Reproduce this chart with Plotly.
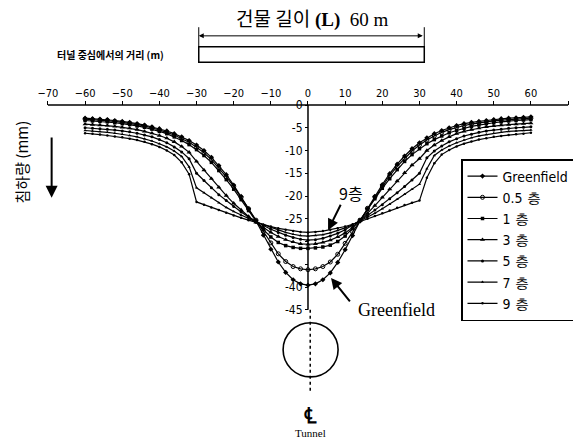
import plotly.graph_objects as go

# ---------------- data ----------------
XS = [-60, -58, -56, -54, -52, -50, -48, -46, -44, -42, -40, -38, -36, -34, -32, -30,
      -28, -26, -24, -22, -20, -18, -16, -14, -12, -10, -8, -6, -4, -2, 0,
      2, 4, 6, 8, 10, 12, 14, 16, 18, 20, 22, 24, 26, 28, 30,
      32, 34, 36, 38, 40, 42, 44, 46, 48, 50, 52, 54, 56, 58, 60]

greenfield = [-2.9, -3.0, -3.1, -3.2, -3.4, -3.6, -3.8, -4.1, -4.4, -4.8, -5.2, -5.7, -6.3, -7.0, -7.8, -8.8,
              -10.0, -11.5, -13.3, -15.3, -17.6, -20.1, -22.8, -25.5, -28.6, -31.7, -34.5, -36.8, -38.4, -39.3, -39.6,
              -39.3, -38.4, -36.9, -34.6, -31.8, -28.7, -25.5, -22.8, -20.1, -17.5, -15.1, -13.0, -11.2, -9.6, -8.3,
              -7.2, -6.3, -5.6, -5.0, -4.5, -4.1, -3.8, -3.6, -3.4, -3.2, -3.0, -2.9, -2.8, -2.7, -2.6]

floor_05 = [-3.1, -3.2, -3.3, -3.4, -3.6, -3.8, -4.0, -4.3, -4.6, -5.0, -5.5, -6.0, -6.6, -7.4, -8.2, -9.3,
            -10.5, -12.0, -13.8, -15.8, -17.9, -20.3, -22.8, -25.3, -27.8, -30.3, -32.7, -34.4, -35.5, -36.0, -36.2,
            -36.0, -35.5, -34.5, -32.8, -30.4, -27.9, -25.3, -22.7, -20.2, -17.8, -15.5, -13.5, -11.7, -10.1, -8.8,
            -7.7, -6.8, -6.0, -5.4, -4.9, -4.5, -4.2, -3.9, -3.7, -3.5, -3.3, -3.2, -3.1, -3.0, -2.9]

floor_1 = [-3.4, -3.5, -3.6, -3.7, -3.9, -4.1, -4.3, -4.6, -4.9, -5.3, -5.8, -6.3, -7.0, -7.8, -8.7, -9.8,
           -11.1, -12.6, -14.4, -16.4, -18.5, -20.8, -23.2, -25.5, -27.4, -29.0, -30.2, -30.9, -31.3, -31.5, -31.5,
           -31.4, -31.2, -30.8, -30.0, -28.8, -27.1, -25.3, -23.0, -20.6, -18.3, -16.2, -14.2, -12.4, -10.9, -9.6,
           -8.5, -7.6, -6.8, -6.1, -5.6, -5.1, -4.7, -4.4, -4.1, -3.9, -3.7, -3.5, -3.4, -3.3, -3.2]

floor_3 = [-4.2, -4.3, -4.4, -4.5, -4.7, -4.9, -5.1, -5.4, -5.8, -6.2, -6.7, -7.3, -8.1, -9.1, -10.4, -12.4,
           -14.3, -16.2, -18.1, -19.9, -21.6, -23.1, -24.5, -25.8, -27.0, -28.0, -28.9, -29.6, -30.1, -30.5, -30.6,
           -30.5, -30.2, -29.7, -29.0, -28.1, -26.9, -25.4, -23.8, -22.1, -20.3, -18.5, -16.7, -14.9, -13.2, -11.8,
           -10.0, -8.8, -7.8, -7.0, -6.3, -5.8, -5.4, -5.1, -4.8, -4.6, -4.4, -4.3, -4.2, -4.1, -4.0]

floor_5 = [-5.0, -5.1, -5.2, -5.3, -5.5, -5.7, -5.9, -6.2, -6.6, -7.0, -7.6, -8.3, -9.2, -10.3, -11.8, -15.0,
           -16.6, -18.2, -19.7, -21.0, -22.3, -23.5, -24.6, -25.6, -26.5, -27.3, -28.0, -28.6, -29.1, -29.5, -29.7,
           -29.6, -29.3, -28.8, -28.2, -27.4, -26.4, -25.4, -24.3, -23.1, -21.9, -20.6, -19.3, -17.9, -16.5, -15.0,
           -11.6, -10.1, -9.0, -8.1, -7.4, -6.8, -6.4, -6.0, -5.7, -5.5, -5.3, -5.1, -5.0, -4.9, -4.8]

floor_7 = [-5.6, -5.7, -5.8, -6.0, -6.2, -6.4, -6.7, -7.0, -7.4, -7.9, -8.5, -9.2, -10.1, -11.3, -13.6, -18.2,
           -19.3, -20.4, -21.5, -22.5, -23.4, -24.2, -25.0, -25.7, -26.3, -26.9, -27.5, -28.0, -28.4, -28.7, -28.8,
           -28.7, -28.5, -28.1, -27.6, -27.0, -26.3, -25.5, -24.7, -23.8, -22.8, -21.8, -20.7, -19.6, -18.5, -17.4,
           -14.0, -11.1, -9.9, -9.0, -8.3, -7.7, -7.2, -6.8, -6.5, -6.2, -6.0, -5.8, -5.7, -5.6, -5.5]

floor_9 = [-6.2, -6.3, -6.5, -6.7, -6.9, -7.1, -7.4, -7.7, -8.1, -8.6, -9.2, -10.0, -11.0, -12.6, -15.2, -21.3,
           -21.9, -22.5, -23.1, -23.7, -24.3, -24.8, -25.3, -25.8, -26.3, -26.7, -27.1, -27.4, -27.7, -27.9, -28.0,
           -27.9, -27.7, -27.4, -27.1, -26.7, -26.2, -25.6, -25.0, -24.4, -23.8, -23.2, -22.6, -22.0, -21.5, -21.0,
           -16.0, -12.8, -10.9, -9.9, -9.1, -8.5, -8.0, -7.6, -7.3, -7.0, -6.8, -6.6, -6.4, -6.3, -6.1]

SERIES = [
    ("Greenfield", greenfield, dict(symbol="diamond", size=4, color="black")),
    ("0.5 층", floor_05, dict(symbol="circle-open", size=4, color="black", line=dict(width=1, color="black"))),
    ("1 층", floor_1, dict(symbol="square", size=3.5, color="black")),
    ("3 층", floor_3, dict(symbol="triangle-up", size=4.5, color="black")),
    ("5 층", floor_5, dict(symbol="circle", size=3, color="black")),
    ("7 층", floor_7, dict(symbol="triangle-up", size=3, color="black")),
    ("9 층", floor_9, dict(symbol="circle", size=2.5, color="black")),
]

X_TICKS = [-70, -60, -50, -40, -30, -20, -10, 0, 10, 20, 30, 40, 50, 60, 70]
Y_TICKS = [0, -5, -10, -15, -20, -25, -30, -35, -40, -45]
Y_TICKTEXT = ["0", "-5", "-10", "-15", "-20", "-25", "", "", "-40", "-45"]

BUILDING = (-29.4, 31.3)
TUNNEL_CENTER = (0.7, -53.8)
TUNNEL_RADIUS = (7.4, 5.95)

# ---------------- figure ----------------
NARROW = "DejaVu Sans Condensed, Liberation Sans Narrow, Arial Narrow, Liberation Sans, sans-serif"
KR = "Noto Sans CJK KR, sans-serif"
SERIF = "Liberation Serif, Times New Roman, serif"

fig = go.Figure()
for name, ys, mk in SERIES:
    fig.add_trace(go.Scatter(x=XS, y=ys, name=name, mode="lines+markers",
                             line=dict(color="black", width=1.2), marker=mk, cliponaxis=False))

# axis lines
fig.add_shape(type="line", x0=-70, x1=70, y0=0, y1=0, line=dict(color="black", width=1.5))
fig.add_shape(type="line", x0=0, x1=0, y0=0, y1=-45, line=dict(color="black", width=1.5))
fig.add_shape(type="line", x0=0.6, x1=0.6, y0=-45, y1=-63.3, line=dict(color="black", width=1.5, dash="dot"))
# tunnel
fig.add_shape(type="circle", x0=TUNNEL_CENTER[0] - TUNNEL_RADIUS[0], x1=TUNNEL_CENTER[0] + TUNNEL_RADIUS[0],
              y0=TUNNEL_CENTER[1] - TUNNEL_RADIUS[1], y1=TUNNEL_CENTER[1] + TUNNEL_RADIUS[1],
              line=dict(color="black", width=1.6))
# building
fig.add_shape(type="rect", x0=BUILDING[0], x1=BUILDING[1], y0=9.4, y1=12.8, line=dict(color="black", width=1.5))
fig.add_shape(type="line", x0=BUILDING[0], x1=BUILDING[0], y0=12.8, y1=17.1, line=dict(color="black", width=1))
fig.add_shape(type="line", x0=BUILDING[1], x1=BUILDING[1], y0=12.8, y1=17.1, line=dict(color="black", width=1))
fig.add_annotation(x=BUILDING[0], y=15.2, ax=BUILDING[1], ay=15.2, axref="x", ayref="y",
                   text="", showarrow=True, arrowhead=2, arrowsize=1, arrowwidth=1, arrowside="end+start",
                   arrowcolor="black")

fig.add_annotation(x=1.3, y=19.3, showarrow=False,
                   text="<span style='font-family:Noto Sans CJK KR'>건물 길이</span> <b>(L)</b>  60 m",
                   font=dict(family=SERIF, size=19, color="black"))
fig.add_annotation(x=-53.1, y=11.0, showarrow=False, text="<b>터널 중심에서의 거리 (m)</b>",
                   font=dict(family=KR, size=10, color="black"))

# y label and arrow
fig.add_annotation(x=-77.1, y=-12.5, showarrow=False, text="침하량 (mm)", textangle=-90,
                   font=dict(family=KR, size=15, color="black"))
fig.add_annotation(x=-69, y=-20.4, ax=-69, ay=-6.8, axref="x", ayref="y", text="",
                   showarrow=True, arrowhead=2, arrowsize=1.2, arrowwidth=2, arrowcolor="black")

# callouts
fig.add_annotation(x=5.4, y=-27.5, ax=9.0, ay=-21.6, axref="x", ayref="y", text="",
                   showarrow=True, arrowhead=2, arrowsize=1.1, arrowwidth=2, arrowcolor="black")
fig.add_annotation(x=11.5, y=-19.4, showarrow=False, text="9층",
                   font=dict(family=KR, size=16, color="black"))
fig.add_annotation(x=6.2, y=-38.0, ax=11.6, ay=-43.5, axref="x", ayref="y", text="",
                   showarrow=True, arrowhead=2, arrowsize=1.1, arrowwidth=2, arrowcolor="black")
fig.add_annotation(x=12.8, y=-45.0, showarrow=False, text="Greenfield", xanchor="left",
                   font=dict(family=SERIF, size=18, color="black"))

# tunnel labels
fig.add_annotation(x=0.7, y=-68.1, showarrow=False, text="<b>℄</b>",
                   font=dict(family="DejaVu Serif, serif", size=22, color="black"))
fig.add_annotation(x=0.7, y=-72.1, showarrow=False, text="Tunnel",
                   font=dict(family=SERIF, size=11, color="black"))

fig.update_layout(
    width=573, height=444,
    margin=dict(l=0, r=0, t=0, b=0, autoexpand=False),
    paper_bgcolor="white", plot_bgcolor="white",
    showlegend=True,
    legend=dict(x=461 / 573, y=1 - 159 / 444, xanchor="left", yanchor="top",
                bordercolor="black", borderwidth=1.5, bgcolor="white",
                font=dict(family=NARROW, size=14, color="black"),
                itemwidth=30, tracegroupgap=0, entrywidth=85),
    xaxis=dict(range=[-82.9, 71.33], domain=[0, 1], anchor="free", position=0.7635, side="top",
               showline=False, showgrid=False, zeroline=False,
               tickmode="array", tickvals=X_TICKS, ticks="outside", ticklen=4, tickcolor="black",
               tickfont=dict(family=NARROW, size=11, color="black")),
    yaxis=dict(range=[-74.5, 23.08], domain=[0, 1], anchor="free", position=308 / 573, side="left",
               showline=False, showgrid=False, zeroline=False,
               tickmode="array", tickvals=Y_TICKS, ticktext=Y_TICKTEXT, ticks="outside", ticklen=3,
               tickcolor="black", tickfont=dict(family=NARROW, size=12, color="black")),
)

fig.write_html("out.html")
